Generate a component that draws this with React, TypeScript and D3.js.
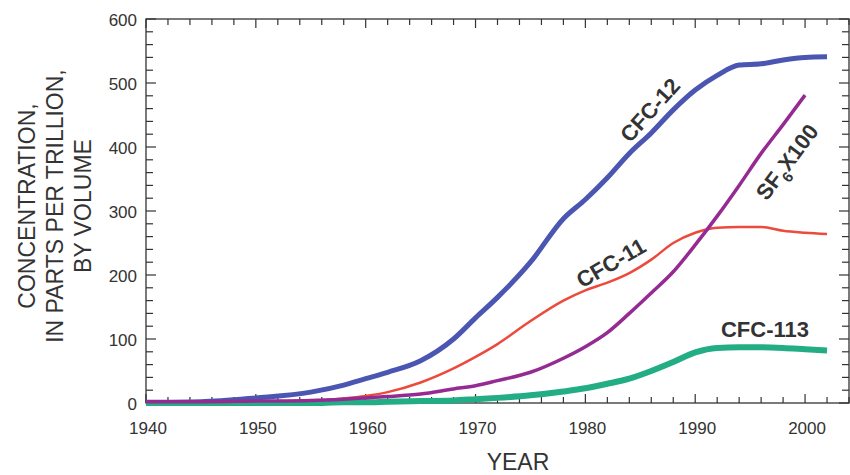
import React, { useEffect, useRef } from "react";
import * as d3 from "d3";

// years shared by CFC-12, CFC-11 and CFC-113
const years = [1940, 1945, 1950, 1955, 1958, 1960, 1962, 1965, 1968, 1970, 1972, 1975, 1978, 1980, 1982, 1984, 1986, 1988, 1990, 1992, 1994, 1996, 1998, 2000, 2002];
const cfc12 = [1, 2, 8, 17, 28, 38, 48, 66, 100, 133, 165, 220, 288, 318, 352, 390, 422, 458, 489, 512, 528, 530, 536, 540, 541];
const cfc11 = [0, 0, 1, 3, 7, 11, 17, 32, 54, 72, 92, 128, 160, 176, 188, 203, 224, 250, 266, 274, 275, 275, 269, 266, 264];
const cfc113 = [0, 0, 0, 0, 1, 1, 2, 3, 4, 6, 8, 12, 18, 23, 30, 38, 50, 64, 79, 86, 87, 87, 86, 84, 82];

// SF6 (x100) ends in 2000
const sf6Years = [1940, 1945, 1950, 1955, 1958, 1960, 1962, 1965, 1968, 1970, 1972, 1975, 1978, 1980, 1982, 1984, 1986, 1988, 1990, 1992, 1994, 1996, 1998, 2000];
const sf6 = [2, 2, 3, 4, 6, 8, 10, 14, 22, 27, 35, 48, 70, 88, 110, 140, 172, 205, 247, 292, 340, 390, 435, 481];

const yearTicks = [1940, 1950, 1960, 1970, 1980, 1990, 2000];
const valueTicks = [0, 100, 200, 300, 400, 500, 600];

const ink = "#333";
const font = "Liberation Sans, Arial, sans-serif";

const App: React.FC = () => {
  const ref = useRef<SVGSVGElement>(null);

  useEffect(() => {
    const svg = d3.select(ref.current);
    svg.selectAll("*").remove();

    const x = d3.scaleLinear().domain([1940, 2004]).range([146, 849]);
    const y = d3.scaleLinear().domain([0, 600]).range([403, 19]);

    const g = svg.append("g");

    // frame
    g.append("rect")
      .attr("x", x(1940))
      .attr("y", y(600))
      .attr("width", x(2004) - x(1940))
      .attr("height", y(0) - y(600))
      .attr("fill", "none")
      .attr("stroke", ink)
      .attr("stroke-width", 1.3);

    // minor/major ticks, all inward
    const xt = d3.range(1940, 2005, 2);
    g.selectAll(".xb")
      .data(xt)
      .enter()
      .append("line")
      .attr("x1", (d) => x(d))
      .attr("x2", (d) => x(d))
      .attr("y1", y(0))
      .attr("y2", (d) => y(0) - (d % 10 === 0 ? 9 : 6))
      .attr("stroke", ink)
      .attr("stroke-width", 1.2);
    g.selectAll(".xt")
      .data(xt)
      .enter()
      .append("line")
      .attr("x1", (d) => x(d))
      .attr("x2", (d) => x(d))
      .attr("y1", y(600))
      .attr("y2", (d) => y(600) + (d % 10 === 0 ? 9 : 6))
      .attr("stroke", ink)
      .attr("stroke-width", 1.2);

    const yt = d3.range(0, 601, 20);
    g.selectAll(".yl")
      .data(yt)
      .enter()
      .append("line")
      .attr("x1", x(1940))
      .attr("x2", (d) => x(1940) + (d % 100 === 0 ? 10 : 7))
      .attr("y1", (d) => y(d))
      .attr("y2", (d) => y(d))
      .attr("stroke", ink)
      .attr("stroke-width", 1.2);
    g.selectAll(".yr")
      .data(yt)
      .enter()
      .append("line")
      .attr("x1", x(2004))
      .attr("x2", (d) => x(2004) - (d % 100 === 0 ? 10 : 7))
      .attr("y1", (d) => y(d))
      .attr("y2", (d) => y(d))
      .attr("stroke", ink)
      .attr("stroke-width", 1.2);

    // tick labels
    g.selectAll(".xl")
      .data(yearTicks)
      .enter()
      .append("text")
      .attr("x", (d) => x(d) + 2)
      .attr("y", 434)
      .attr("text-anchor", "middle")
      .attr("font-family", font)
      .attr("font-size", 17)
      .attr("fill", ink)
      .text((d) => d);
    g.selectAll(".vl")
      .data(valueTicks)
      .enter()
      .append("text")
      .attr("x", 137)
      .attr("y", (d) => y(d) + 7)
      .attr("text-anchor", "end")
      .attr("font-family", font)
      .attr("font-size", 17)
      .attr("fill", ink)
      .text((d) => d);

    // axis titles
    g.append("text")
      .attr("x", 518)
      .attr("y", 470)
      .attr("text-anchor", "middle")
      .attr("font-family", font)
      .attr("font-size", 23)
      .attr("fill", ink)
      .text("YEAR");
    const titleLines = ["CONCENTRATION,", "IN PARTS PER TRILLION,", "BY VOLUME"];
    g.selectAll(".yt")
      .data(titleLines)
      .enter()
      .append("text")
      .attr("transform", (d, i) => `translate(${35 + i * 28},206) rotate(-90)`)
      .attr("text-anchor", "middle")
      .attr("font-family", font)
      .attr("font-size", 23)
      .attr("fill", ink)
      .text((d) => d);

    // series
    const line = d3
      .line<[number, number]>()
      .x((d) => x(d[0]))
      .y((d) => y(d[1]))
      .curve(d3.curveMonotoneX);

    const series = [
      { yrs: years, vals: cfc12, color: "#4a56b2", w: 5 },
      { yrs: years, vals: cfc11, color: "#ec4a3c", w: 2.5 },
      { yrs: years, vals: cfc113, color: "#22ad84", w: 6 },
      { yrs: sf6Years, vals: sf6, color: "#952b92", w: 3.5 },
    ];
    series.forEach((s) => {
      g.append("path")
        .attr("d", line(s.yrs.map((yr, i) => [yr, s.vals[i]] as [number, number])))
        .attr("fill", "none")
        .attr("stroke", s.color)
        .attr("stroke-width", s.w)
        .attr("stroke-linejoin", "round");
    });

    // series labels, centred on their anchor point
    const lab = (tx: number, ty: number, rot: number) =>
      g
        .append("text")
        .attr("transform", `translate(${tx},${ty}) rotate(${rot})`)
        .attr("text-anchor", "middle")
        .attr("dy", "0.35em")
        .attr("font-family", font)
        .attr("font-weight", "bold")
        .attr("font-size", 22)
        .attr("fill", ink);

    lab(650, 110, -48).text("CFC-12");
    lab(611, 263, -30).text("CFC-11");
    lab(765, 329, 0).text("CFC-113");
    const sf = lab(787, 162, -53);
    sf.append("tspan").text("SF");
    sf.append("tspan").attr("font-size", 15).attr("dy", 7).text("6");
    sf.append("tspan").attr("dy", -7).text("X100");
  }, []);

  return (
    <svg
      ref={ref}
      width={850}
      height={475}
      style={{ position: "absolute", left: 0, top: 0, background: "#fff" }}
    />
  );
};

export default App;
